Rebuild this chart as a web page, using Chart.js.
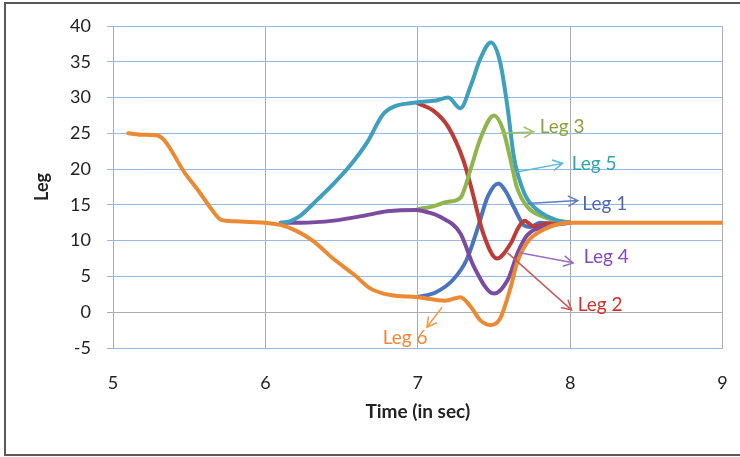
<!DOCTYPE html>
<html>
<head>
<meta charset="utf-8">
<title>Leg</title>
<script src="https://cdn.jsdelivr.net/npm/chart.js@4"></script>
<style>
  html, body { margin: 0; padding: 0; background: #fff; }
  #wrap { width: 740px; height: 457px; position: relative; }
</style>
</head>
<body>
<div id="wrap"><canvas id="legChart" width="740" height="457"></canvas></div>
<script>
/* time (s) and value for each leg */
const leg1T = [7.00, 7.12, 7.23, 7.32, 7.39, 7.46, 7.53, 7.58, 7.63, 7.70, 7.74, 7.80, 7.90, 8.00];
const leg1V = [2.1, 2.8, 4.5, 7.3, 11.5, 16.2, 18.0, 16.8, 14.7, 12.1, 11.9, 12.5, 12.4, 12.5];

const leg2T = [7.00, 7.10, 7.20, 7.30, 7.35, 7.43, 7.52, 7.61, 7.66, 7.70, 7.76, 7.85, 8.00];
const leg2V = [29.2, 28.2, 25.9, 21.2, 17.5, 11.0, 7.5, 9.6, 11.8, 12.8, 12.0, 12.4, 12.5];

const leg3T = [7.00, 7.10, 7.19, 7.28, 7.35, 7.41, 7.50, 7.56, 7.61, 7.65, 7.72, 7.83, 8.00];
const leg3V = [14.4, 14.8, 15.4, 16.0, 20.2, 24.2, 27.5, 25.5, 21.2, 17.5, 14.7, 13.3, 12.5];

const leg4T = [6.10, 6.23, 6.45, 6.65, 6.80, 6.99, 7.06, 7.15, 7.28, 7.37, 7.50, 7.59, 7.66, 7.72, 7.85, 8.00];
const leg4V = [12.5, 12.5, 12.8, 13.5, 14.1, 14.3, 14.0, 13.3, 11.0, 6.3, 2.6, 4.5, 8.5, 10.8, 12.0, 12.5];

const leg5T = [6.10, 6.16, 6.23, 6.34, 6.45, 6.56, 6.67, 6.77, 6.84, 6.99, 7.12, 7.20, 7.28, 7.35, 7.41, 7.48, 7.54, 7.59, 7.63, 7.70, 7.79, 7.92, 8.00];
const leg5V = [12.5, 12.7, 13.5, 15.7, 18.0, 20.6, 23.8, 27.6, 28.7, 29.3, 29.6, 30.0, 28.5, 31.8, 35.4, 37.7, 35.0, 28.5, 21.8, 16.6, 14.2, 12.8, 12.5];

const leg6T = [5.10, 5.20, 5.29, 5.48, 5.57, 5.66, 5.71, 5.80, 5.90, 6.00, 6.10, 6.20, 6.31, 6.45, 6.58, 6.69, 6.82, 7.00, 7.18, 7.28, 7.35, 7.41, 7.48, 7.54, 7.61, 7.65, 7.72, 7.83, 7.92, 8.00, 8.50, 9.00];
const leg6V = [25.0, 24.8, 24.7, 19.2, 16.7, 14.0, 12.9, 12.7, 12.6, 12.5, 12.2, 11.4, 10.0, 7.4, 5.3, 3.3, 2.4, 2.1, 1.6, 2.1, 0.7, -1.1, -1.8, -0.9, 3.5, 6.8, 9.8, 11.6, 12.3, 12.5, 12.5, 12.5];

const legNames = ['Leg 1', 'Leg 2', 'Leg 3', 'Leg 4', 'Leg 5', 'Leg 6'];
const legColors = ['#4a74bf', '#bd3c37', '#8fb54b', '#7a4c9f', '#3ea0bc', '#eb8a33'];

const xTicks = [5, 6, 7, 8, 9];
const yTicks = [-5, 0, 5, 10, 15, 20, 25, 30, 35, 40];

// callout labels: text, arrow tail, arrow head, text anchor (data units)
const callouts = [
  { text: 'Leg 3', from: [7.54, 25.0], to: [7.76, 25.2], at: [7.80, 25.9], color: '#8aa33a', line: '#9cc35a' },
  { text: 'Leg 5', from: [7.65, 19.6], to: [7.95, 20.8], at: [8.01, 20.8], color: '#2ea4ab', line: '#5cb6d8' },
  { text: 'Leg 1', from: [7.72, 15.2], to: [8.05, 15.6], at: [8.08, 15.2], color: '#4a6ab0', line: '#5b7dc6' },
  { text: 'Leg 4', from: [7.67, 8.3], to: [8.02, 6.9], at: [8.09, 7.7], color: '#8648c0', line: '#9b6dc2' },
  { text: 'Leg 2', from: [7.59, 8.3], to: [8.01, 0.3], at: [8.05, 1.0], color: '#d0302c', line: '#c85a5a' },
  { text: 'Leg 6', from: [7.16, 0.7], to: [7.06, -2.1], at: [6.77, -3.6], color: '#f0883a', line: '#f39a4a' },
];

const seriesT = [leg1T, leg2T, leg3T, leg4T, leg5T, leg6T];
const seriesV = [leg1V, leg2V, leg3V, leg4V, leg5V, leg6V];

const datasets = legNames.map((name, i) => ({
  label: name,
  data: seriesT[i].map((t, k) => ({ x: t, y: seriesV[i][k] })),
  borderColor: legColors[i],
  borderWidth: 4,
  pointRadius: 0,
  cubicInterpolationMode: 'monotone',
  borderCapStyle: 'round',
  borderJoinStyle: 'round',
  fill: false,
  order: 6 - i,   // Leg 6 ends up on top
}));

const FONT = "Lato, 'Open Sans', sans-serif";
const GRID_BLUE = '#9ab7e2';
const GRID_GREY = '#acacac';

// outer frame around the whole chart
const framePlugin = {
  id: 'frame',
  beforeDraw(chart) {
    const c = chart.ctx;
    c.save();
    c.fillStyle = '#fff';
    c.fillRect(0, 0, chart.width, chart.height);
    c.strokeStyle = '#5a5a5a';
    c.lineWidth = 2;
    c.beginPath();
    c.moveTo(chart.width + 2, 3);
    c.lineTo(5, 3);
    c.lineTo(5, 455);
    c.lineTo(chart.width + 2, 455);
    c.stroke();
    c.restore();
  }
};

// arrow callouts naming each leg
const calloutPlugin = {
  id: 'callouts',
  afterDatasetsDraw(chart) {
    const c = chart.ctx, xs = chart.scales.x, ys = chart.scales.y;
    c.save();
    c.font = `19px ${FONT}`;
    c.textAlign = 'left';
    c.textBaseline = 'middle';
    callouts.forEach(cl => {
      const x1 = xs.getPixelForValue(cl.from[0]), y1 = ys.getPixelForValue(cl.from[1]);
      const x2 = xs.getPixelForValue(cl.to[0]), y2 = ys.getPixelForValue(cl.to[1]);
      const ang = Math.atan2(y2 - y1, x2 - x1);
      const head = 11, spread = 0.5;
      c.strokeStyle = cl.line;
      c.lineWidth = 1.5;
      c.beginPath();
      c.moveTo(x1, y1); c.lineTo(x2, y2);
      c.moveTo(x2 - head * Math.cos(ang - spread), y2 - head * Math.sin(ang - spread));
      c.lineTo(x2, y2);
      c.lineTo(x2 - head * Math.cos(ang + spread), y2 - head * Math.sin(ang + spread));
      c.stroke();
      c.fillStyle = cl.color;
      c.fillText(cl.text, xs.getPixelForValue(cl.at[0]), ys.getPixelForValue(cl.at[1]));
    });
    c.restore();
  }
};

new Chart(document.getElementById('legChart'), {
  type: 'line',
  data: { datasets },
  plugins: [framePlugin, calloutPlugin],
  options: {
    responsive: false,
    devicePixelRatio: 1,
    animation: false,
    layout: { padding: { left: 0, top: 26, right: 17.5, bottom: 0 } },
    plugins: { legend: { display: false }, tooltip: { enabled: false } },
    scales: {
      x: {
        type: 'linear',
        min: xTicks[0], max: xTicks[xTicks.length - 1],
        afterBuildTicks: s => { s.ticks = xTicks.map(v => ({ value: v })); },
        afterFit: s => { s.height = 109; s.paddingLeft = 0; s.paddingRight = 0; },
        grid: { color: GRID_GREY, lineWidth: 1, drawTicks: false },
        border: { color: GRID_BLUE, width: 1 },
        ticks: { color: '#222', padding: 24, font: { family: FONT, size: 18 }, maxRotation: 0 },
        title: {
          display: true, text: 'Time (in sec)', color: '#222',
          font: { family: FONT, size: 19, weight: 'bold' },
          padding: { top: 0, bottom: 34 }
        }
      },
      y: {
        min: yTicks[0], max: yTicks[yTicks.length - 1],
        afterBuildTicks: s => { s.ticks = yTicks.map(v => ({ value: v })); },
        afterFit: s => { s.width = 113; s.paddingTop = 0; s.paddingBottom = 0; },
        grid: {
          color: ctx => (ctx.tick && ctx.tick.value === 0 ? GRID_GREY : GRID_BLUE),
          lineWidth: 1, tickLength: 6
        },
        border: { color: GRID_GREY, width: 1 },
        ticks: { color: '#222', padding: 16, font: { family: FONT, size: 18 } },
        title: {
          display: true, text: 'Leg', color: '#222',
          font: { family: FONT, size: 18, weight: 'bold' },
          padding: { top: 31, bottom: 0 }
        }
      }
    }
  }
});
</script>
</body>
</html>
